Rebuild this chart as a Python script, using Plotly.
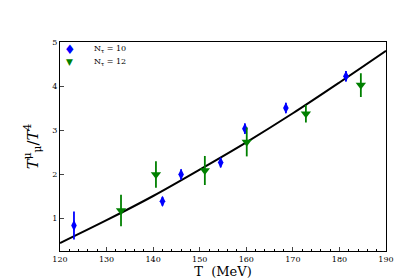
import plotly.graph_objects as go

T10 = [123.0, 142.0, 146.0, 154.5, 159.7, 168.5, 181.4]
v10 = [0.83, 1.38, 1.99, 2.26, 3.03, 3.50, 4.22]
e10 = [0.32, 0.10, 0.12, 0.11, 0.12, 0.12, 0.12]

T12 = [133.1, 140.6, 151.1, 160.1, 172.8, 184.6]
v12 = [1.17, 1.99, 2.08, 2.73, 3.37, 4.02]
e12 = [0.36, 0.30, 0.33, 0.33, 0.20, 0.27]

Tc = [120, 130, 140, 150, 160, 170, 180, 190]
vc = [0.43, 0.95, 1.50, 2.10, 2.72, 3.38, 4.08, 4.80]

legend_labels = ["N<sub>τ</sub> = 10", "N<sub>τ</sub> = 12"]

font = "DejaVu Serif"
fig = go.Figure()
fig.add_trace(go.Scatter(x=Tc, y=vc, mode="lines", line=dict(color="black", width=2, shape="spline"),
                         showlegend=False, hoverinfo="skip"))
fig.add_trace(go.Scatter(x=T10, y=v10, mode="markers", name=legend_labels[0], showlegend=False,
                         marker=dict(symbol="diamond-tall", size=8, color="#0000ff"),
                         error_y=dict(type="data", array=e10, color="#0000ff", thickness=1.8, width=0)))
fig.add_trace(go.Scatter(x=T12, y=v12, mode="markers", name=legend_labels[1], showlegend=False,
                         marker=dict(symbol="triangle-down", size=9, color="#008000"),
                         error_y=dict(type="data", array=e12, color="#008000", thickness=1.8, width=0)))

# legend drawn as annotations for tight spacing
fig.add_annotation(xref="paper", yref="paper", x=0.03, y=0.965, text="♦", showarrow=False,
                   font=dict(size=13, color="#0000ff", family="DejaVu Sans"), xanchor="center", yanchor="middle")
fig.add_annotation(xref="paper", yref="paper", x=0.03, y=0.903, text="▼", showarrow=False,
                   font=dict(size=9, color="#008000", family="DejaVu Sans"), xanchor="center", yanchor="middle")
fig.add_annotation(xref="paper", yref="paper", x=0.098, y=0.965, text=legend_labels[0], showarrow=False,
                   font=dict(size=8, family=font), xanchor="left", yanchor="middle")
fig.add_annotation(xref="paper", yref="paper", x=0.098, y=0.903, text=legend_labels[1], showarrow=False,
                   font=dict(size=8, family=font), xanchor="left", yanchor="middle")

fig.update_layout(
    width=420, height=280,
    margin=dict(l=52, r=42, t=34, b=37),
    paper_bgcolor="white", plot_bgcolor="white",
    font=dict(family=font, size=8, color="black"),
    showlegend=False,
)
fig.update_xaxes(range=[120, 190], tickvals=[120, 130, 140, 150, 160, 170, 180, 190],
                 ticks="inside", ticklen=4, tickwidth=1, showline=True, linecolor="black", linewidth=1,
                 mirror=True, showgrid=False, zeroline=False,
                 minor=dict(dtick=2, ticks="inside", ticklen=2, tickcolor="black"),
                 title=dict(text="T  (MeV)", font=dict(size=13, family=font), standoff=4))
fig.update_yaxes(range=[0.25, 5.0], tickvals=[1, 2, 3, 4, 5],
                 ticks="inside", ticklen=4, tickwidth=1, showline=True, linecolor="black", linewidth=1,
                 mirror=True, showgrid=False, zeroline=False,
                 title=dict(text="<i>T</i><sup>μ</sup><sub>μ</sub>/<i>T</i><sup>4</sup>",
                            font=dict(size=15, family=font), standoff=10))
fig.write_html("out.html")
